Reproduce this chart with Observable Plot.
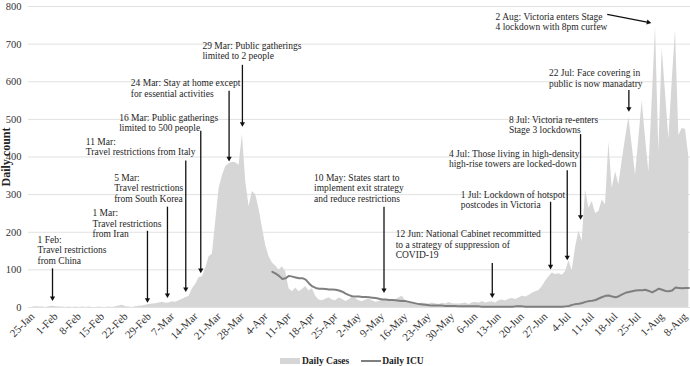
<!DOCTYPE html>
<html>
<head>
<meta charset="utf-8">
<script src="https://cdn.jsdelivr.net/npm/d3@7"></script>
<script src="https://cdn.jsdelivr.net/npm/@observablehq/plot@0.6"></script>
<style>
  html, body { margin: 0; padding: 0; background: #fff; }
  body { font-family: "Liberation Serif", "Times New Roman", serif; width: 690px; height: 366px; overflow: hidden; }
  svg { display: block; }
  g[aria-label="y-axis label"] text { font-weight: bold; font-size: 12px; fill: #222; }
  g[aria-label="x-axis tick label"] text { font-size: 11px; }
  #legend { display: flex; align-items: center; height: 18px; padding-left: 280px; font: bold 9.5px "Liberation Serif", serif; color: #222; }
  #legend .sw-area { width: 20px; height: 6px; background: #d6d6d6; margin-right: 2px; }
  #legend .sw-line { width: 20px; height: 2px; background: #7f7f7f; margin-left: 12px; margin-right: 1px; }
</style>
</head>
<body>
<div id="chart"></div>
<div id="legend"></div>
<script>
// ---- Daily cases, one value per day starting 25 Jan 2020 ----
const casesStart = "2020-01-25";
const casesJan = [1, 2, 1, 1, 0, 2, 3];
const casesFeb = [2, 1, 1, 0, 1, 0, 1, 0, 1, 0, 1, 0, 0, 1, 0, 0, 1, 0, 2, 4, 6, 2, 1, 0, 2, 3, 4, 6, 8];
const casesMar = [9, 10, 12, 14, 11, 12, 15, 14, 18, 22, 26, 30, 50, 62, 80, 82, 105, 135, 142, 229, 316, 350, 375, 382, 386, 385, 378, 460, 335, 268, 308];
const casesApr = [300, 262, 212, 165, 135, 118, 110, 100, 108, 95, 50, 42, 52, 42, 48, 56, 44, 50, 30, 20, 18, 22, 26, 20, 18, 25, 22, 16, 20, 28];
const casesMay = [24, 18, 15, 20, 22, 18, 14, 16, 20, 22, 18, 15, 20, 26, 30, 18, 14, 12, 10, 8, 12, 10, 9, 12, 10, 8, 11, 9, 13, 10, 9];
const casesJun = [9, 10, 12, 8, 12, 14, 11, 16, 12, 14, 15, 12, 18, 20, 17, 22, 24, 21, 25, 30, 28, 32, 38, 42, 45, 55, 70, 82, 92, 88];
const casesJul = [90, 86, 95, 124, 98, 160, 203, 176, 312, 264, 282, 250, 255, 286, 273, 439, 316, 361, 326, 390, 450, 505, 430, 352, 450, 549, 450, 360, 550, 746, 413];
const casesAug = [689, 570, 448, 600, 737, 457, 476, 474, 400];

// ---- Daily ICU, one value per day starting 6 Apr 2020 ----
const icuStart = "2020-04-06";
const icuApr = [95, 90, 84, 76, 78, 84, 82, 80, 78, 78, 74, 64, 56, 52, 50, 50, 49, 48, 48, 47, 45, 42, 37, 33, 30];
const icuMay = [29, 29, 28, 28, 27, 26, 25, 23, 21, 21, 20, 20, 19, 18, 17, 17, 15, 13, 11, 9, 8, 7, 6, 5, 5, 5, 5, 4, 4, 4, 4];
const icuJun = [3, 3, 3, 3, 3, 3, 3, 2, 2, 2, 2, 2, 2, 2, 2, 2, 2, 3, 3, 3, 2, 2, 2, 2, 2, 2, 2, 2, 2, 2];
const icuJul = [2, 2, 3, 4, 7, 9, 10, 12, 15, 17, 18, 20, 24, 28, 31, 32, 29, 27, 30, 35, 39, 41, 43, 45, 46, 46, 47, 44, 40, 45, 50];
const icuAug = [47, 44, 43, 45, 53, 52, 51, 52, 52];

const seriesNames = ["Daily Cases", "Daily ICU"];
const yTicks = [0, 100, 200, 300, 400, 500, 600, 700, 800];
const xTickFirst = "2020-01-25";
const xTickLast = "2020-08-08";

// ---- Event annotations (text anchored at a date / count) ----
const noteText = [
  "1 Feb:\nTravel restrictions\nfrom China",
  "1 Mar:\nTravel restrictions\nfrom Iran",
  "5 Mar:\nTravel restrictions\nfrom South Korea",
  "11 Mar:\nTravel restrictions from Italy",
  "16 Mar: Public gatherings\nlimited to 500 people",
  "24 Mar: Stay at home except\nfor essential activities",
  "29 Mar: Public gatherings\nlimited to 2 people",
  "10 May: States start to\nimplement exit strategy\nand reduce restrictions",
  "12 Jun: National Cabinet recommitted\nto a strategy of suppression of\nCOVID-19",
  "1 Jul: Lockdown of hotspot\npostcodes in Victoria",
  "4 Jul: Those living in high-density\nhigh-rise towers are locked-down",
  "8 Jul: Victoria re-enters\nStage 3 lockdowns",
  "22 Jul: Face covering in\npublic is now manadatry",
  "2 Aug: Victoria enters Stage\n4 lockdown with 8pm curfew"
];
const noteDate = ["2020-01-26T12:00Z", "2020-02-12", "2020-02-18T12:00Z", "2020-02-10", "2020-02-20", "2020-02-23T12:00Z", "2020-03-16",
  "2020-04-18T12:00Z", "2020-05-13", "2020-06-01T12:00Z", "2020-05-29", "2020-06-16", "2020-06-28", "2020-06-12"];
const noteCount = [153, 224, 318, 427, 491, 583, 683, 318, 168, 287, 396, 486, 610, 760];

// ---- Arrows (from date/count to date/count) ----
const arrowDate1 = ["2020-01-31", "2020-02-28T12:00Z", "2020-03-05T12:00Z", "2020-03-11", "2020-03-15T12:00Z", "2020-03-24", "2020-03-28",
  "2020-05-09T12:00Z", "2020-06-11", "2020-06-28T12:00Z", "2020-07-03T12:00Z", "2020-07-07T12:00Z", "2020-07-22", "2020-07-15T12:00Z"];
const arrowCount1 = [104, 204, 268, 391, 470, 576, 645, 268, 118, 281, 365, 461, 578, 779];
const arrowDate2 = ["2020-01-31", "2020-02-28T12:00Z", "2020-03-05T12:00Z", "2020-03-11", "2020-03-15T12:00Z", "2020-03-24", "2020-03-28",
  "2020-05-09T12:00Z", "2020-06-11", "2020-06-28T12:00Z", "2020-07-03T12:00Z", "2020-07-07T12:00Z", "2020-07-22", "2020-07-29"];
const arrowCount2 = [15, 10, 23, 39, 89, 386, 478, 36, 23, 99, 123, 231, 518, 756];

// ---- Build tables ----
const casesAll = [...casesJan, ...casesFeb, ...casesMar, ...casesApr, ...casesMay, ...casesJun, ...casesJul, ...casesAug];
const cases = casesAll.map((v, i) => ({date: d3.utcDay.offset(new Date(casesStart), i), value: v}));
const icuAll = [...icuApr, ...icuMay, ...icuJun, ...icuJul, ...icuAug];
const icu = icuAll.map((v, i) => ({date: d3.utcDay.offset(new Date(icuStart), i), value: v}));
const xTicks = d3.utcDay.range(new Date(xTickFirst), d3.utcDay.offset(new Date(xTickLast), 1), 7);
const notes = noteText.map((t, i) => ({text: t, date: new Date(noteDate[i]), value: noteCount[i]}));
const arrows = arrowDate1.map((d, i) => ({x1: new Date(d), y1: arrowCount1[i], x2: new Date(arrowDate2[i]), y2: arrowCount2[i]}));

function options(extra) {
  return {
    width: 690,
    height: 352,
    marginLeft: 28,
    marginRight: 0,
    marginTop: 6,
    marginBottom: 45,
    style: {fontFamily: "Liberation Serif, Times New Roman, serif", fontSize: "10.5px", color: "#333", background: "#fff"},
    x: {
      type: "utc",
      domain: [new Date("2020-01-23T19:00Z"), new Date("2020-08-09T12:00Z")],
      ticks: xTicks,
      tickFormat: d3.utcFormat("%-d-%b"),
      tickRotate: -45,
      tickSize: 0,
      tickPadding: 7,
      label: null
    },
    y: {
      domain: [0, 800],
      ticks: yTicks,
      tickSize: 0,
      tickPadding: 7,
      label: "Daily count",
      labelAnchor: "center",
      labelOffset: 27,
      labelArrow: "none"
    },
    marks: [
      Plot.gridY(yTicks, {stroke: "#e1e1e1", strokeOpacity: 1}),
      Plot.areaY(cases, {x: "date", y: "value", fill: "#d6d6d6"}),
      Plot.lineY(icu, {x: "date", y: "value", stroke: "#7f7f7f", strokeWidth: 2}),
      ...extra,
      Plot.text(notes, {x: "date", y: "value", text: "text", textAnchor: "start", lineAnchor: "middle", lineHeight: 1.1, fontSize: 9.5, fill: "#1e1e1e"})
    ]
  };
}

// first pass to read the scales, then place arrow heads along each arrow's direction
const draft = Plot.plot(options([]));
const sx = draft.scale("x"), sy = draft.scale("y");
const heads = arrows.map(a => {
  const px1 = sx.apply(a.x1), py1 = sy.apply(a.y1), px2 = sx.apply(a.x2), py2 = sy.apply(a.y2);
  const ang = Math.atan2(py2 - py1, px2 - px1);
  const cx = px2 - Math.cos(ang) * 3.9, cy = py2 - Math.sin(ang) * 3.9;
  return {...a, hx: sx.invert(cx), hy: sy.invert(cy), rot: ang * 180 / Math.PI + 90};
});

const chart = Plot.plot(options([
  Plot.link(heads, {x1: "x1", y1: "y1", x2: "hx", y2: "hy", stroke: "#111", strokeWidth: 1.3}),
  Plot.dot(heads, {x: "hx", y: "hy", symbol: "triangle2", r: 2.5, fill: "#111", stroke: "none", rotate: "rot"})
]));
document.getElementById("chart").appendChild(chart);

// legend below the chart
const legend = document.getElementById("legend");
legend.innerHTML =
  `<span class="sw-area"></span><span>${seriesNames[0]}</span><span class="sw-line"></span><span>${seriesNames[1]}</span>`;
</script>
</body>
</html>
